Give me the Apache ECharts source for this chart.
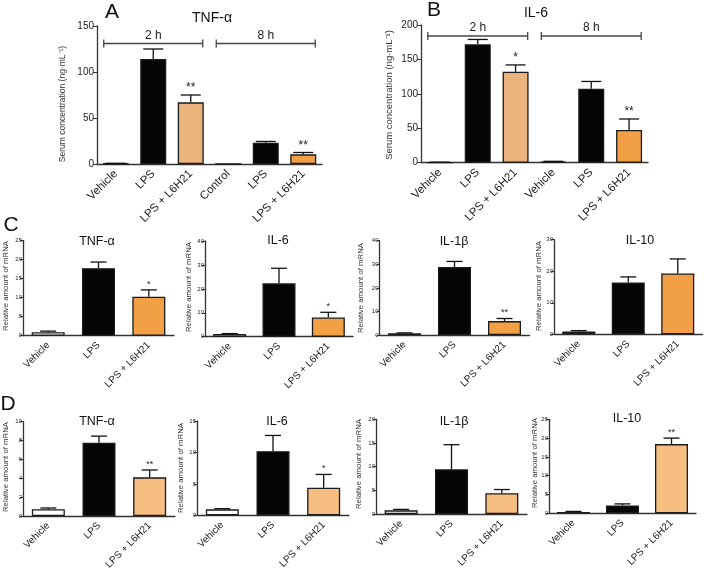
<!DOCTYPE html>
<html><head><meta charset="utf-8">
<script src="https://cdn.jsdelivr.net/npm/echarts@6/dist/echarts.min.js"></script>
<style>html,body{margin:0;padding:0;background:#fff}#c{width:709px;height:579px}</style>
</head><body><div id="c"></div>
<script>
// ---------------- DATA ----------------
const catsA = ['Vehicle', 'LPS', 'LPS + L6H21', 'Control', 'LPS', 'LPS + L6H21'];
const valsA = [0.5, 114, 67, 0, 23, 10.5];
const errA  = [0.3, 11, 8, 0, 1.5, 2];
const sigA  = ['', '', '**', '', '', '**'];

const catsB = ['Vehicle', 'LPS', 'LPS + L6H21', 'Vehicle', 'LPS', 'LPS + L6H21'];
const valsB = [0.5, 172, 132, 1.5, 107.5, 47.5];
const errB  = [0.3, 7, 10, 0.5, 10.5, 16];
const sigB  = ['', '', '*', '', '', '**'];

const bracketGroups = ['2 h', '8 h'];
const bracketStart = [0, 3];
const bracketEnd   = [2, 5];

const cats3 = ['Vehicle', 'LPS', 'LPS + L6H21'];

const valsC_TNF = [0.9, 17.7, 10.2];  const errC_TNF = [0.3, 1.6, 1.8];  const sigC_TNF = ['', '', '*'];
const valsC_IL6 = [1.1, 22.3, 8.0];   const errC_IL6 = [0.2, 6.3, 2.2];  const sigC_IL6 = ['', '', '*'];
const valsC_IL1 = [0.7, 28.8, 5.9];   const errC_IL1 = [0.2, 2.4, 1.1];  const sigC_IL1 = ['', '', '**'];
const valsC_IL10 = [0.85, 16.4, 19.3]; const errC_IL10 = [0.3, 1.8, 4.6]; const sigC_IL10 = ['', '', ''];

const valsD_TNF = [0.71, 7.77, 4.1];  const errD_TNF = [0.14, 0.7, 0.78]; const sigD_TNF = ['', '', '**'];
const valsD_IL6 = [0.95, 10.2, 4.4];  const errD_IL6 = [0.1, 2.5, 2.1];   const sigD_IL6 = ['', '', '*'];
const valsD_IL1 = [0.77, 9.44, 4.37]; const errD_IL1 = [0.2, 5.2, 0.8];   const sigD_IL1 = ['', '', ''];
const valsD_IL10 = [0.35, 2.1, 18.4]; const errD_IL10 = [0.15, 0.4, 1.6]; const sigD_IL10 = ['', '', '**'];

// ---------------- STYLE ----------------
const FF = 'Liberation Sans, Arial, Helvetica, sans-serif';
const WHITE = '#ffffff', BLACK = '#050505', LIGHT = '#EBB37E', ORANGE = '#F1A046', PALE = '#F6BE80';
const AX = '#333333';

const panels = [
  {cats: catsA, vals: valsA, err: errA, sig: sigA, fills: [WHITE, BLACK, LIGHT, WHITE, BLACK, ORANGE],
   grid: {left: 97, top: 26, width: 225, height: 138}, max: 150, interval: 50, big: true,
   title: 'TNF-α', tx: 212, ty: 18, yname: 'Serum concentration (ng·mL⁻¹)', nx: 63, ny: 104, nfs: 8.5, bracketY: 131},
  {cats: catsB, vals: valsB, err: errB, sig: sigB, fills: [WHITE, BLACK, LIGHT, WHITE, BLACK, ORANGE],
   grid: {left: 421, top: 25, width: 227, height: 137.7}, max: 200, interval: 50, big: true,
   title: 'IL-6', tx: 536, ty: 13, yname: 'Serum concentration (ng·mL⁻¹)', nx: 389, ny: 95, nfs: 9.5, bracketY: 184},
  {cats: cats3, vals: valsC_TNF, err: errC_TNF, sig: sigC_TNF, fills: [WHITE, BLACK, ORANGE],
   grid: {left: 23, top: 240.3, width: 151, height: 95.4}, max: 25, interval: 5,
   title: 'TNF-α', tx: 97, ty: 242, yname: 'Relative amount of mRNA', nx: 5.5, ny: 286},
  {cats: cats3, vals: valsC_IL6, err: errC_IL6, sig: sigC_IL6, fills: [WHITE, BLACK, ORANGE],
   grid: {left: 205, top: 241, width: 148, height: 95.7}, max: 40, interval: 10,
   title: 'IL-6', tx: 278, ty: 241, yname: 'Relative amount of mRNA', nx: 188.5, ny: 287},
  {cats: cats3, vals: valsC_IL1, err: errC_IL1, sig: sigC_IL1, fills: [WHITE, BLACK, ORANGE],
   grid: {left: 379.5, top: 240.7, width: 150, height: 94.3}, max: 40, interval: 10,
   title: 'IL-1β', tx: 454, ty: 242, yname: 'Relative amount of mRNA', nx: 360.5, ny: 288},
  {cats: cats3, vals: valsC_IL10, err: errC_IL10, sig: sigC_IL10, fills: [WHITE, BLACK, ORANGE],
   grid: {left: 554, top: 239.7, width: 148.5, height: 94.6}, max: 30, interval: 10,
   title: 'IL-10', tx: 640, ty: 241, yname: 'Relative amount of mRNA', nx: 539, ny: 286},
  {cats: cats3, vals: valsD_TNF, err: errD_TNF, sig: sigD_TNF, fills: [WHITE, BLACK, PALE],
   grid: {left: 23, top: 421.7, width: 152, height: 94.3}, max: 10, interval: 2,
   title: 'TNF-α', tx: 97, ty: 422, yname: 'Relative amount of mRNA', nx: 5.5, ny: 467},
  {cats: cats3, vals: valsD_IL6, err: errD_IL6, sig: sigD_IL6, fills: [WHITE, BLACK, PALE],
   grid: {left: 197, top: 421, width: 152, height: 94.3}, max: 15, interval: 5,
   title: 'IL-6', tx: 277, ty: 422, yname: 'Relative amount of mRNA', nx: 181, ny: 468},
  {cats: cats3, vals: valsD_IL1, err: errD_IL1, sig: sigD_IL1, fills: [WHITE, BLACK, PALE],
   grid: {left: 376, top: 419.3, width: 151, height: 94.7}, max: 20, interval: 5,
   title: 'IL-1β', tx: 454, ty: 422, yname: 'Relative amount of mRNA', nx: 358.5, ny: 464},
  {cats: cats3, vals: valsD_IL10, err: errD_IL10, sig: sigD_IL10, fills: [WHITE, BLACK, PALE],
   grid: {left: 549, top: 419.3, width: 147, height: 94}, max: 25, interval: 5,
   title: 'IL-10', tx: 627, ty: 419, yname: 'Relative amount of mRNA', nx: 535, ny: 463}
];

const grids = [], xAxes = [], yAxes = [], series = [], graphics = [];

function errRenderer(sig, capHalf, sigFs) {
  return function (params, api) {
    const i = api.value(0), v = api.value(1), e = api.value(2);
    const p0 = api.coord([i, v]);
    const p1 = api.coord([i, v + e]);
    const children = [];
    if (e > 0) {
      children.push({type: 'line', shape: {x1: p0[0], y1: p0[1], x2: p1[0], y2: p1[1]}, style: {stroke: '#111', lineWidth: 1.3}});
      children.push({type: 'line', shape: {x1: p1[0] - capHalf, y1: p1[1], x2: p1[0] + capHalf, y2: p1[1]}, style: {stroke: '#111', lineWidth: 1.3}});
    }
    const s = sig[params.dataIndex];
    if (s) {
      children.push({type: 'text', x: p1[0], y: p1[1] - 1, style: {text: s, align: 'center', verticalAlign: 'bottom', fontSize: sigFs, fontFamily: FF, fill: '#222'}});
    }
    return {type: 'group', children: children};
  };
}

panels.forEach((p, gi) => {
  grids.push(Object.assign({outerBoundsMode: 'none', containLabel: false}, p.grid));
  const catFs = p.big ? 11.5 : 10;
  xAxes.push({
    type: 'category', gridIndex: gi, data: p.cats,
    axisLine: {lineStyle: {color: AX, width: 1.3}},
    axisTick: {alignWithLabel: true, length: 3, lineStyle: {color: AX, width: 1}},
    axisLabel: {rotate: 45, interval: 0, fontSize: catFs, color: '#1a1a1a', margin: 8, fontFamily: FF}
  });
  yAxes.push({
    type: 'value', gridIndex: gi, min: 0, max: p.max, interval: p.interval,
    splitLine: {show: false},
    axisLine: {show: true, lineStyle: {color: AX, width: 1.3}},
    axisTick: {show: true, length: p.big ? 4 : 3, lineStyle: {color: AX, width: 1}},
    axisLabel: {fontSize: p.big ? 10 : 6, color: '#222', margin: p.big ? 3 : 1, fontFamily: FF}
  });
  series.push({
    type: 'bar', xAxisIndex: gi, yAxisIndex: gi, barWidth: p.big ? 26 : 33,
    data: p.vals.map((v, i) => ({value: v, itemStyle: {color: p.fills[i]}})),
    itemStyle: {borderColor: '#1a1a1a', borderWidth: 1.3},
    silent: true, animation: false
  });
  series.push({
    type: 'custom', xAxisIndex: gi, yAxisIndex: gi, clip: false, z: 5,
    renderItem: errRenderer(p.sig, p.big ? 10 : 8, p.big ? 12 : 9),
    data: p.vals.map((v, i) => [i, v, p.err[i]]),
    silent: true, animation: false
  });
  if (p.bracketY !== undefined) {
    series.push({
      type: 'custom', xAxisIndex: gi, yAxisIndex: gi, clip: false, z: 5,
      renderItem: function (params, api) {
        const k = params.dataIndex;
        const a = api.coord([api.value(0), api.value(2)]);
        const b = api.coord([api.value(1), api.value(2)]);
        const half = api.size([1, 0])[0] * 0.32;
        const x1 = a[0] - half, x2 = b[0] + half, y = a[1];
        return {type: 'group', children: [
          {type: 'line', shape: {x1: x1, y1: y, x2: x2, y2: y}, style: {stroke: '#444', lineWidth: 1.3}},
          {type: 'line', shape: {x1: x1, y1: y - 4, x2: x1, y2: y + 4}, style: {stroke: '#444', lineWidth: 1.3}},
          {type: 'line', shape: {x1: x2, y1: y - 4, x2: x2, y2: y + 4}, style: {stroke: '#444', lineWidth: 1.3}},
          {type: 'text', x: (x1 + x2) / 2, y: y - 8, style: {text: bracketGroups[k], align: 'center', verticalAlign: 'middle', fontSize: 12, fontFamily: FF, fill: '#222'}}
        ]};
      },
      data: bracketStart.map((s, k) => [s, bracketEnd[k], p.bracketY]),
      silent: true, animation: false
    });
  }
  graphics.push({type: 'text', x: p.tx, y: p.ty, silent: true,
    style: {text: p.title, align: 'center', verticalAlign: 'middle', fontSize: p.big ? 14 : 12.5, fontFamily: FF, fill: '#111'}});
  graphics.push({type: 'text', x: p.nx, y: p.ny, rotation: Math.PI / 2, silent: true,
    style: {text: p.yname, align: 'center', verticalAlign: 'middle', fontSize: p.nfs || 7.8, fontFamily: FF, fill: '#333'}});
});

const letters = [['A', 112, 12], ['B', 434, 10], ['C', 11, 225], ['D', 8, 404]];
letters.forEach(l => graphics.push({type: 'text', x: l[1], y: l[2], silent: true,
  style: {text: l[0], align: 'center', verticalAlign: 'middle', fontSize: 21, fontFamily: FF, fill: '#111'}}));

const chart = echarts.init(document.getElementById('c'), null, {renderer: 'canvas'});
chart.setOption({
  animation: false,
  backgroundColor: '#fff',
  grid: grids, xAxis: xAxes, yAxis: yAxes, series: series, graphic: graphics
});
</script></body></html>
